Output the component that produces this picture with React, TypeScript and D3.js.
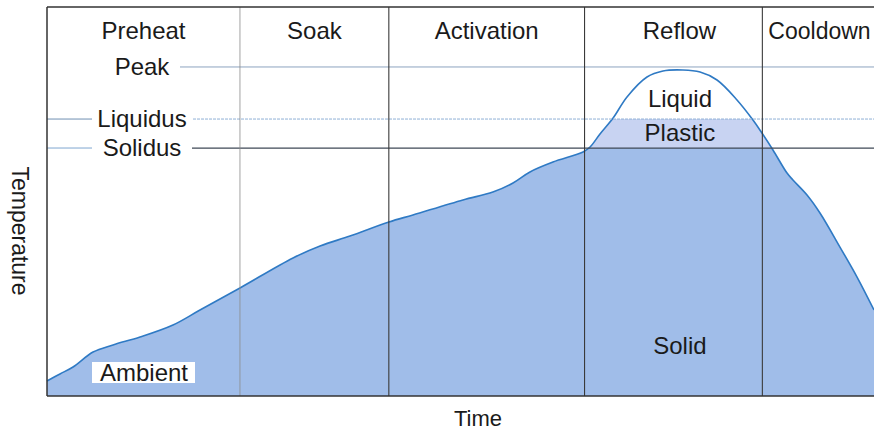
import React from "react";
import * as d3 from "d3";

const phases = ["Preheat", "Soak", "Activation", "Reflow", "Cooldown"];
const phaseBounds = [0, 140, 248, 390, 519];
const levelNames = ["Peak", "Liquidus", "Solidus"];
const levelTemps = [232.6, 195.8, 175.3];
const regionNames = ["Liquid", "Plastic", "Solid"];

const time = [0, 9.4, 18.9, 33.4, 47.9, 67.5, 91.4, 111, 140, 178.5, 198.1, 219.8, 248.1, 265.5, 301.8, 323.5, 338.1, 350.4, 367.1, 388.9, 394, 401.2, 410.7, 420.8, 435.3, 446.9, 461.4, 473.8, 486.1, 500.6, 512.2, 518.7, 526.7, 536.9, 541.2, 551.4, 560.8, 575.3, 587.7, 600];
const temp = [10.6, 15.6, 20.5, 31.1, 36.1, 41.7, 50.2, 60.8, 76.4, 97.6, 106, 113.1, 123, 128, 138.6, 144.2, 150.6, 158.4, 165.4, 172.5, 176, 185.2, 196.5, 211.4, 225.5, 229.8, 230.5, 229, 223.4, 209.3, 195.1, 185.9, 173.9, 157.6, 152.7, 142.1, 129.4, 105.3, 84.1, 60.8];

const W = 874;
const H = 432;
const left = 47;
const right = 874;
const top = 7;
const bottom = 396;

const FONT = "'Liberation Sans', Arial, Helvetica, sans-serif";

export default function App() {
  const x = d3.scaleLinear().domain([0, 600]).range([left, right]);
  const y = d3.scaleLinear().domain([0, 275]).range([bottom, top]);
  const pts = time.map((t, i) => [t, temp[i]] as [number, number]);
  const curve = d3.curveCatmullRom.alpha(0.5);

  const area = d3
    .area<[number, number]>()
    .x((d) => x(d[0]))
    .y0(y(0))
    .y1((d) => y(d[1]))
    .curve(curve)(pts) as string;
  const line = d3
    .line<[number, number]>()
    .x((d) => x(d[0]))
    .y((d) => y(d[1]))
    .curve(curve)(pts) as string;

  const peakY = y(levelTemps[0]);
  const liqY = y(levelTemps[1]);
  const solY = y(levelTemps[2]);
  const peakIdx = d3.maxIndex(temp);
  const regionX = x(time[peakIdx]) - 3;
  const labelX = left + 95;

  const labelStyle = { fontFamily: FONT, fontSize: 24, fill: "#1a1a1a" } as const;

  return (
    <svg width={W} height={H} style={{ position: "absolute", left: 0, top: 0, background: "#fff" }}>
      <defs>
        <clipPath id="areaClip">
          <path d={area} />
        </clipPath>
      </defs>
      {/* fills */}
      <g clipPath="url(#areaClip)">
        <rect x={left} y={solY} width={right - left} height={bottom - solY} fill="#a0bde9" />
        <rect x={left} y={liqY} width={right - left} height={solY - liqY} fill="#c8d3f2" />
      </g>
      <path d={line} fill="none" stroke="#2f7ac4" strokeWidth={1.6} />

      {/* level lines */}
      <line x1={labelX + 38} x2={right} y1={peakY} y2={peakY} stroke="#8da3bf" strokeWidth={1} />
      <line x1={left} x2={labelX - 50} y1={liqY} y2={liqY} stroke="#6f8fb2" strokeWidth={1} />
      <line x1={labelX + 51} x2={right} y1={liqY} y2={liqY} stroke="#8fb0d6" strokeWidth={1} strokeDasharray="3,1" />
      <line x1={left} x2={labelX - 50} y1={solY} y2={solY} stroke="#7fa6d0" strokeWidth={1} />
      <line x1={labelX + 50} x2={right} y1={solY} y2={solY} stroke="#3f4856" strokeWidth={1.2} />

      {/* phase dividers */}
      {phaseBounds.slice(1).map((b, i) => (
        <line
          key={b}
          x1={x(b)}
          x2={x(b)}
          y1={top}
          y2={bottom}
          stroke={i === 0 ? "#8a8a8a" : "#3a3a3a"}
          strokeWidth={i === 0 ? 0.8 : 1.1}
        />
      ))}

      {/* frame */}
      <line x1={left} x2={right} y1={top} y2={top} stroke="#333" strokeWidth={1.5} />
      <line x1={left} x2={left} y1={top} y2={bottom} stroke="#333" strokeWidth={1.5} />
      <line x1={left} x2={right} y1={bottom} y2={bottom} stroke="#333" strokeWidth={1.5} />

      {/* phase labels */}
      {phases.map((p, i) => {
        const a = x(phaseBounds[i]);
        const b = i + 1 < phaseBounds.length ? x(phaseBounds[i + 1]) : right;
        const isLast = i === phases.length - 1;
        const cx = isLast ? a + 6 : (a + b) / 2 + (i === 3 ? 6 : 0);
        return (
          <text
            key={p}
            x={cx}
            y={39}
            textAnchor={isLast ? "start" : "middle"}
            {...labelStyle}
            fontSize={isLast ? 23 : 24}
          >
            {p}
          </text>
        );
      })}

      {/* level labels */}
      {levelNames.map((n, i) => (
        <text key={n} x={labelX} y={y(levelTemps[i]) + 8} textAnchor="middle" {...labelStyle}>
          {n}
        </text>
      ))}

      {/* region labels */}
      <text x={regionX} y={107} textAnchor="middle" {...labelStyle}>{regionNames[0]}</text>
      <text x={regionX} y={141} textAnchor="middle" {...labelStyle}>{regionNames[1]}</text>
      <text x={regionX} y={354} textAnchor="middle" {...labelStyle}>{regionNames[2]}</text>

      {/* ambient */}
      <rect x={92} y={362} width={103} height={21} fill="#fff" />
      <text x={144} y={381} textAnchor="middle" {...labelStyle}>Ambient</text>

      {/* axis titles */}
      <text x={478} y={426} textAnchor="middle" {...labelStyle} fontSize={22}>Time</text>
      <text
        transform={`translate(12, 231) rotate(90)`}
        textAnchor="middle"
        {...labelStyle}
        fontSize={23}
      >
        Temperature
      </text>
    </svg>
  );
}
